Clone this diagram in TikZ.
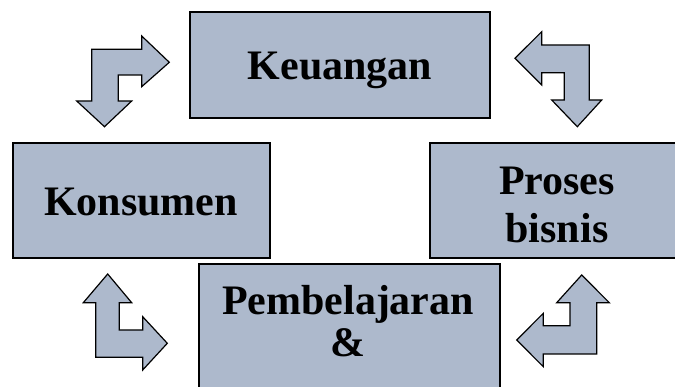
\documentclass[tikz,border=0pt]{standalone}
\usepackage{fontspec}
\setmainfont{Liberation Serif}
\definecolor{boxfill}{RGB}{173,185,204}
\tikzset{
  boxshape/.style={draw=black, line width=1.5pt, fill=boxfill, rectangle, inner sep=0pt},
  lbl/.style={font=\fontsize{42}{48}\selectfont\bfseries, text=black, inner sep=0pt, anchor=base},
  bentarrow/.style={draw=black, line width=1.2pt, fill=boxfill, line join=miter},
}
\begin{document}
\begin{tikzpicture}[x=1pt,y=-1pt]
\useasboundingbox (0,0) rectangle (675,387);
\clip (0,0) rectangle (675,387);
% boxes
\node[boxshape, minimum width=300pt, minimum height=106pt] (keu) at (340,65) {};
\node[boxshape, minimum width=257pt, minimum height=115pt] (kon) at (141.5,200.5) {};
\node[boxshape, minimum width=254pt, minimum height=115pt] (pro) at (557,200.5) {};
\node[boxshape, minimum width=301pt, minimum height=160pt] (pem) at (349.5,344) {};
% labels
\node[lbl] (tkeu) at (340,80) {Keuangan};
\node[lbl] (tkon) at (141,216) {Konsumen};
\node[lbl] (tpro1) at (557,195) {Proses};
\node[lbl] (tpro2) at (557,243) {bisnis};
\node[lbl] (tpem1) at (348,315) {Pembelajaran};
\node[lbl] (tpem2) at (348,356) {\&};
% bent arrows
\draw[bentarrow] (91.7,49.3) -- (141.7,49.3) -- (141.7,36) -- (169.3,62.3) -- (141.7,86.7)
  -- (141.7,75) -- (118.3,75) -- (118.3,101) -- (131.7,101) -- (104.5,126.7)
  -- (76.7,101) -- (91.7,101) -- cycle;
\draw[bentarrow] (589.3,45) -- (541.7,45) -- (541.7,31.7) -- (515,58.3) -- (541.7,85)
  -- (541.7,72.7) -- (564.3,72.7) -- (564.3,100) -- (551.7,100) -- (577.3,126.7)
  -- (601.7,100) -- (589.3,100) -- cycle;
\draw[bentarrow] (95.7,357.3) -- (142.7,357.3) -- (142.7,370) -- (167.3,343.3) -- (142.7,316.7)
  -- (142.7,330) -- (119.3,330) -- (119.3,302.7) -- (131.7,302.7) -- (107.7,274)
  -- (83.3,302.7) -- (95.7,302.7) -- cycle;
\draw[bentarrow] (596.7,354) -- (543.3,354) -- (543.3,366.7) -- (516.7,340) -- (543.3,313.3)
  -- (543.3,325.7) -- (570,325.7) -- (570,302.7) -- (556.7,302.7) -- (581.7,275)
  -- (609.3,302.7) -- (596.7,302.7) -- cycle;
\end{tikzpicture}
\end{document}
